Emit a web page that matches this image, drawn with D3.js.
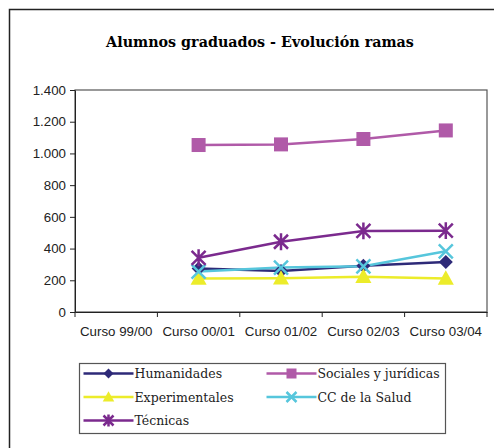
<!DOCTYPE html>
<html>
<head>
<meta charset="utf-8">
<script src="https://cdnjs.cloudflare.com/ajax/libs/d3/7.8.5/d3.min.js"></script>
<style>
  body { margin: 0; background: #fff; }
  svg { display: block; }
</style>
</head>
<body>
<div id="chart"></div>
<script>
// data
var cursos = ["Curso 99/00", "Curso 00/01", "Curso 01/02", "Curso 02/03", "Curso 03/04"];
var humanidades = [null, 275, 258, 292, 315];
var sociales = [null, 1053, 1057, 1091, 1145];
var experimentales = [null, 212, 213, 223, 212];
var ccSalud = [null, 255, 280, 288, 383];
var tecnicas = [null, 342, 443, 511, 513];
var yTicks = [0, 200, 400, 600, 800, 1000, 1200, 1400];

var series = [
    {name: "Humanidades", values: humanidades, color: "#2e2a78", marker: "diamond"},
    {name: "Sociales y jurídicas", values: sociales, color: "#b05aa8", marker: "square"},
    {name: "Experimentales", values: experimentales, color: "#ecec2a", marker: "triangle"},
    {name: "CC de la Salud", values: ccSalud, color: "#56c6dc", marker: "x"},
    {name: "Técnicas", values: tecnicas, color: "#7b2a8e", marker: "star"}
];

var W = 494, H = 448;
var margin = {top: 90, right: 7, bottom: 136, left: 75};
var width = W - margin.left - margin.right,
    height = H - margin.top - margin.bottom;

var svg = d3.select("#chart").append("svg")
    .attr("width", W)
    .attr("height", H);

// outer frame (right and bottom run off the page)
svg.append("rect")
    .attr("x", 9.5).attr("y", 9.5)
    .attr("width", 500).attr("height", 460)
    .attr("fill", "none").attr("stroke", "#222").attr("stroke-width", 1.5);

svg.append("text")
    .attr("x", 260).attr("y", 47)
    .attr("text-anchor", "middle")
    .attr("font-family", "'DejaVu Serif', serif")
    .attr("font-weight", "bold")
    .attr("font-size", 14.3)
    .text("Alumnos graduados - Evolución ramas");

var g = svg.append("g")
    .attr("transform", "translate(" + margin.left + "," + margin.top + ")");

var xScale = d3.scaleBand().domain(cursos).range([0, width]);
var yScale = d3.scaleLinear().domain([0, 1400]).range([height, 0]);

// plot area border
g.append("rect")
    .attr("width", width).attr("height", height)
    .attr("fill", "none").attr("stroke", "#555").attr("stroke-width", 1.2);

var fmt = function(d) { return d3.format(",")(d).replace(/,/g, "."); };

var yAxis = g.append("g")
    .call(d3.axisLeft(yScale).tickValues(yTicks).tickFormat(fmt).tickSize(5).tickSizeOuter(0));
var xAxis = g.append("g")
    .attr("transform", "translate(0," + height + ")")
    .call(d3.axisBottom(xScale).tickSize(5).tickSizeOuter(0));
// ticks on category boundaries
xAxis.selectAll(".tick line").remove();
xAxis.selectAll(".bound").data(d3.range(cursos.length + 1)).enter().append("line")
    .attr("x1", function(i) { return i * xScale.step(); })
    .attr("x2", function(i) { return i * xScale.step(); })
    .attr("y1", 0).attr("y2", 5)
    .attr("stroke", "#222");
xAxis.selectAll(".tick text").attr("dy", "1.2em");

[yAxis, xAxis].forEach(function(a) {
    a.selectAll("text").attr("font-family", "'Liberation Sans', Arial, sans-serif")
        .attr("font-size", 13.3).attr("fill", "#222");
    a.select(".domain").attr("stroke", "#222");
    a.selectAll("line").attr("stroke", "#222");
});
yAxis.selectAll(".tick text").attr("x", -9);

var cx = function(i) { return xScale(cursos[i]) + xScale.bandwidth() / 2; };

function drawMarker(sel, type, color, s) {
    if (type === "diamond") {
        sel.append("path").attr("d", "M0," + (-s) + "L" + s + ",0L0," + s + "L" + (-s) + ",0Z")
            .attr("fill", color);
    } else if (type === "square") {
        sel.append("rect").attr("x", -s).attr("y", -s).attr("width", 2 * s).attr("height", 2 * s)
            .attr("fill", color);
    } else if (type === "triangle") {
        sel.append("path").attr("d", "M0," + (-s * 1.15) + "L" + (s * 1.15) + "," + (s * 0.9) + "L" + (-s * 1.15) + "," + (s * 0.9) + "Z")
            .attr("fill", color);
    } else if (type === "x") {
        sel.append("path").attr("d", "M" + (-s) + "," + (-s) + "L" + s + "," + s + "M" + (-s) + "," + s + "L" + s + "," + (-s))
            .attr("stroke", color).attr("stroke-width", 2.5).attr("fill", "none");
    } else if (type === "star") {
        sel.append("path").attr("d", "M" + (-s) + "," + (-s) + "L" + s + "," + s + "M" + (-s) + "," + s + "L" + s + "," + (-s) + "M0," + (-s * 1.2) + "L0," + (s * 1.2))
            .attr("stroke", color).attr("stroke-width", 2.5).attr("fill", "none");
    }
}

var line = d3.line()
    .defined(function(d) { return d != null; })
    .x(function(d, i) { return cx(i); })
    .y(function(d) { return yScale(d); });

series.forEach(function(s) {
    g.append("path")
        .datum(s.values)
        .attr("d", line)
        .attr("fill", "none")
        .attr("stroke", s.color)
        .attr("stroke-width", 2.5);
});
series.forEach(function(s) {
    s.values.forEach(function(v, i) {
        if (v == null) return;
        var m = g.append("g").attr("transform", "translate(" + cx(i) + "," + yScale(v) + ")");
        drawMarker(m, s.marker, s.color, 7);
    });
});

// legend
var leg = svg.append("g").attr("transform", "translate(79.5,363.5)");
leg.append("rect").attr("width", 366).attr("height", 70)
    .attr("fill", "#fff").attr("stroke", "#555").attr("stroke-width", 1.2);
series.forEach(function(s, i) {
    var col = i % 2, row = Math.floor(i / 2);
    var item = leg.append("g").attr("transform", "translate(" + (4 + col * 183) + "," + (10 + row * 23.5) + ")");
    item.append("line").attr("x1", 0).attr("x2", 50).attr("stroke", s.color).attr("stroke-width", 2.5);
    drawMarker(item.append("g").attr("transform", "translate(25,0)"), s.marker, s.color, 5);
    item.append("text").attr("x", 51).attr("y", 4.5)
        .attr("font-family", "'DejaVu Serif', serif")
        .attr("font-size", 12.5).attr("fill", "#222")
        .text(s.name);
});
</script>
</body>
</html>
